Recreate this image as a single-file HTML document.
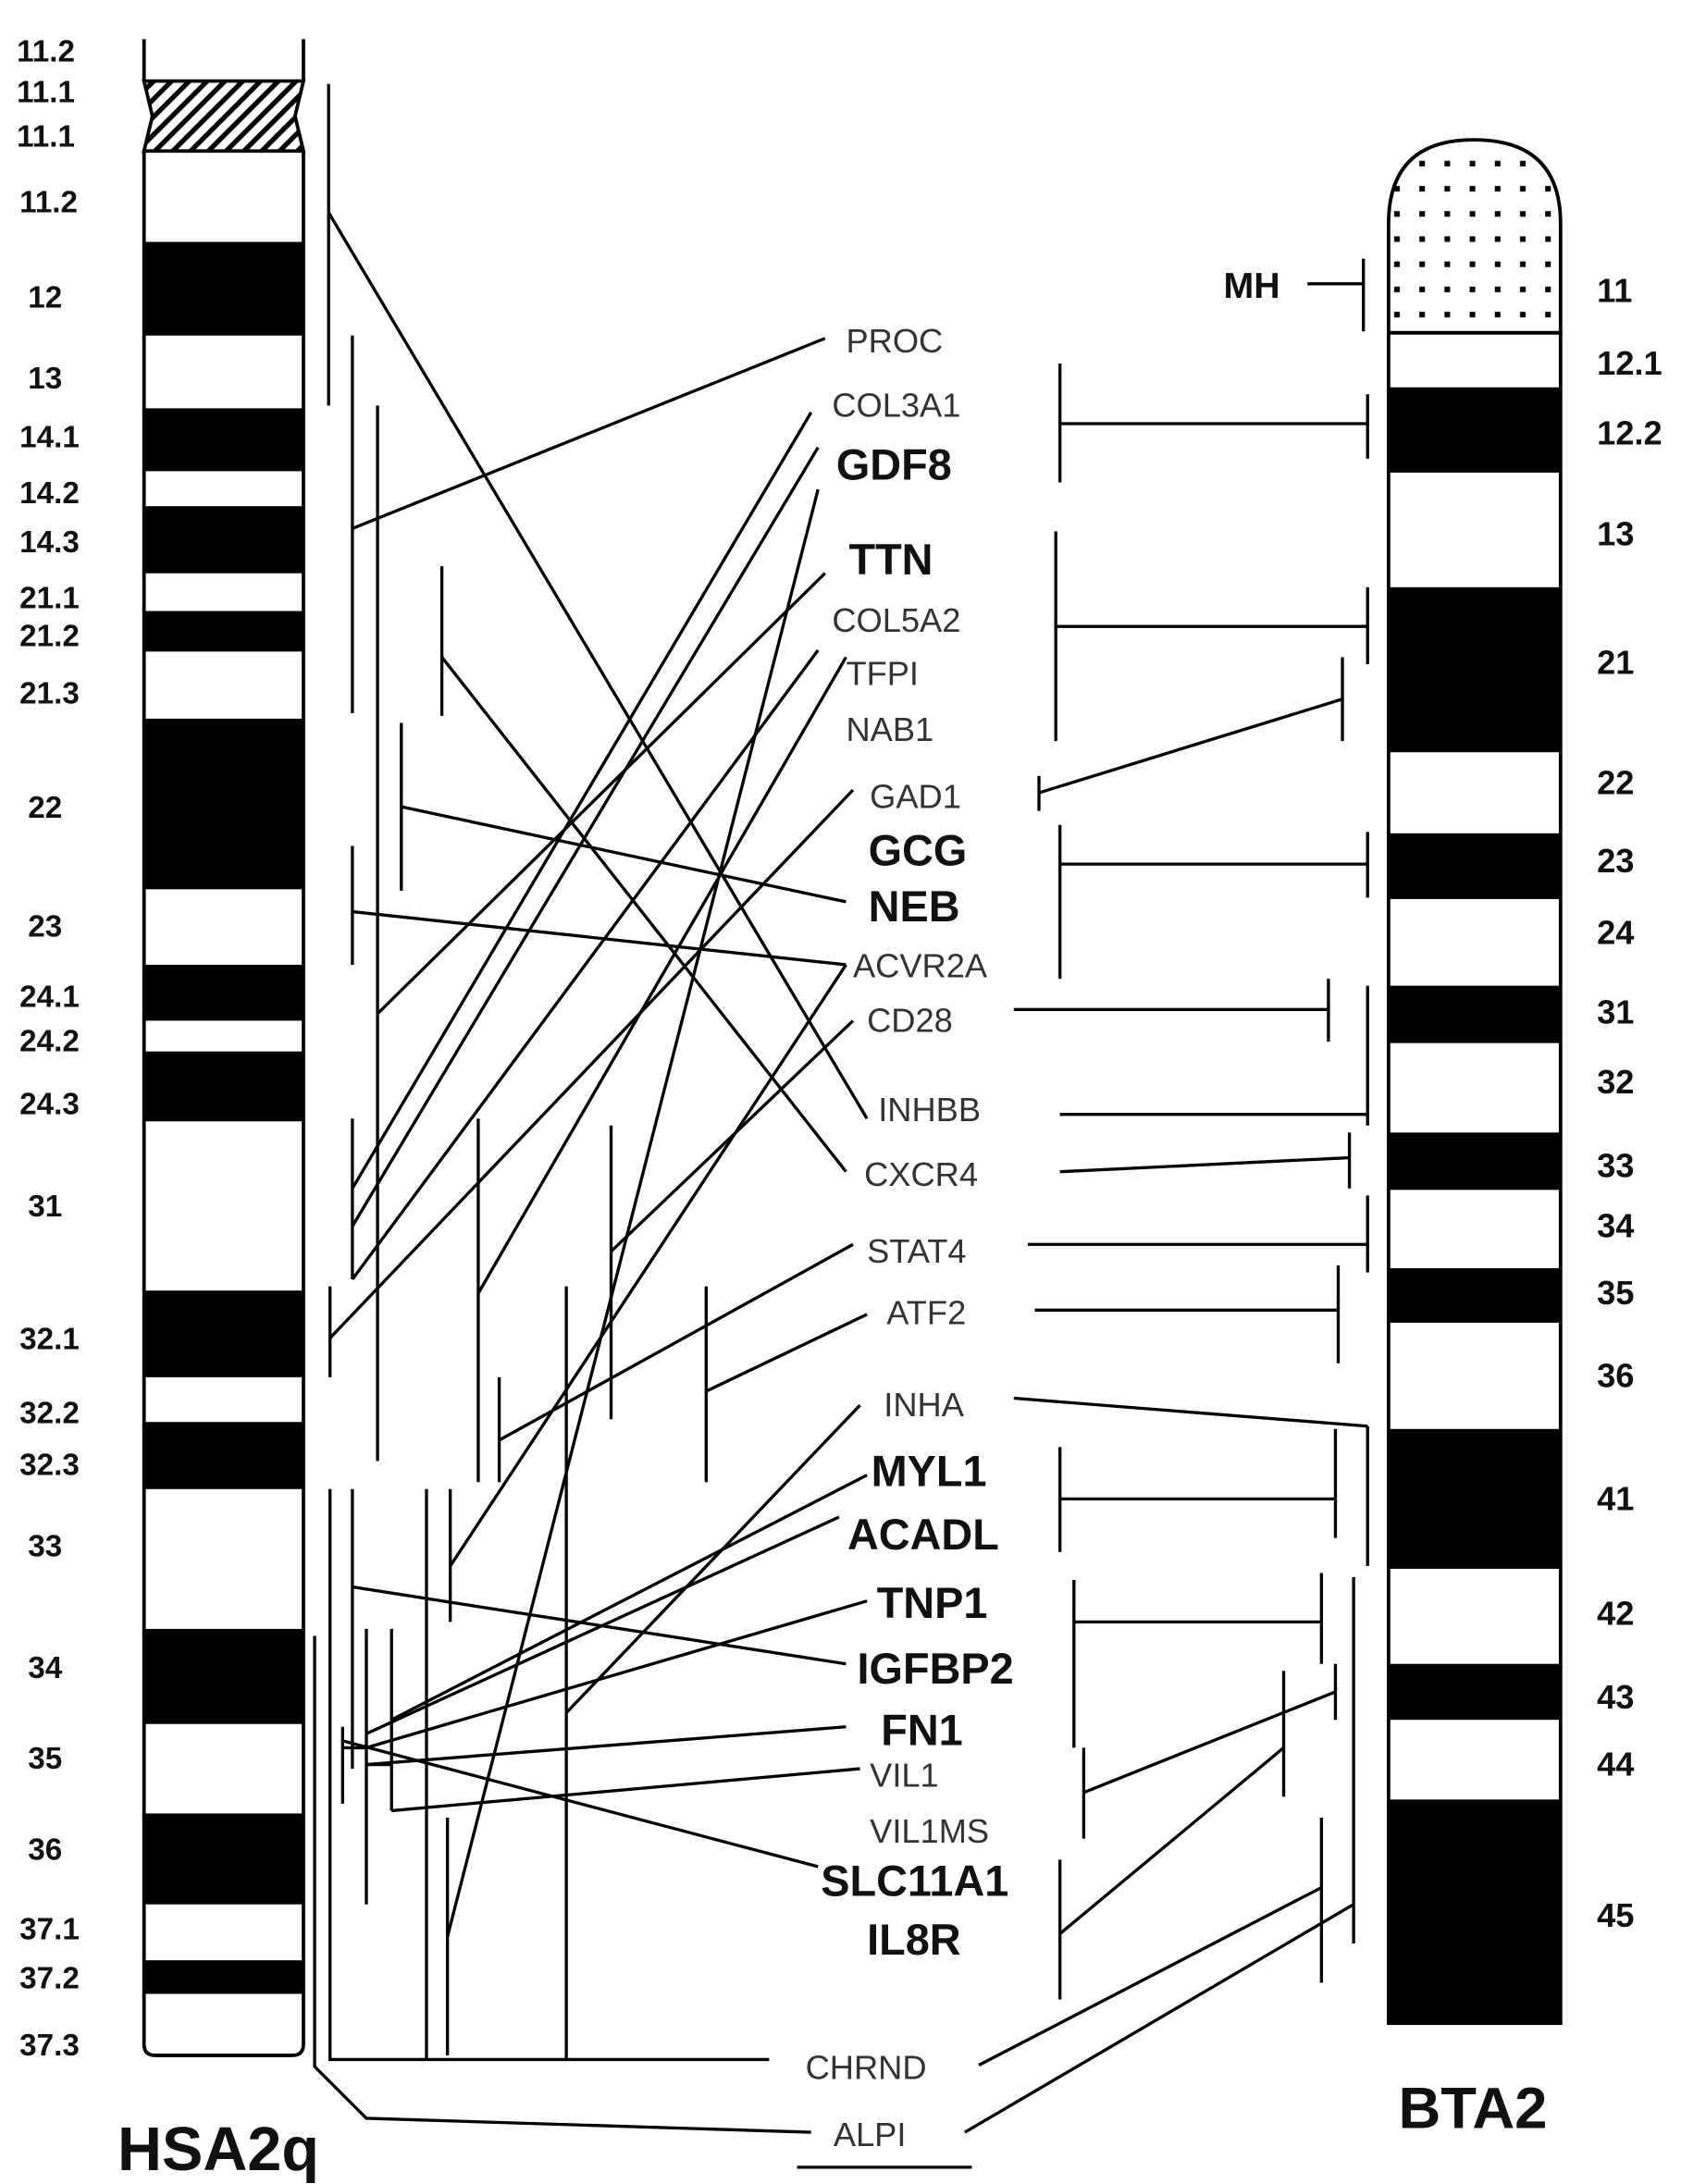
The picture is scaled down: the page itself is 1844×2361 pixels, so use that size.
<!DOCTYPE html>
<html><head><meta charset="utf-8"><style>
html,body{margin:0;padding:0;background:#fff;}
svg{display:block}
text{font-family:"Liberation Sans",Arial,sans-serif;}
.b{font-weight:bold;font-size:22px;fill:#111}
.g{font-size:24px;fill:#333}
.gb{font-size:31px;font-weight:bold;fill:#111}
</style></head><body>
<svg width="1844" height="2361" viewBox="0 0 1220 1562" preserveAspectRatio="none" xmlns="http://www.w3.org/2000/svg">
<defs>
<pattern id="h" width="9" height="9" patternUnits="userSpaceOnUse" patternTransform="rotate(45)"><rect width="9" height="9" fill="#fff"/><rect width="3.5" height="9" fill="#000"/></pattern>
<pattern id="d" width="18" height="18" patternUnits="userSpaceOnUse"><rect width="18" height="18" fill="#fff"/><rect x="7" y="7" width="4" height="4" fill="#000"/></pattern>
</defs>
<!-- Left chromosome -->
<g stroke="#000" stroke-width="2.5">
<line x1="103" y1="28" x2="103" y2="58"/><line x1="217" y1="28" x2="217" y2="58"/>
<polygon points="103,58 217,58 211,83 217,108 103,108 109,83" fill="url(#h)"/>
</g>
<g fill="#000">
<rect x="103" y="173" width="114" height="67"/>
<rect x="103" y="292" width="114" height="45"/>
<rect x="103" y="362" width="114" height="48"/>
<rect x="103" y="437" width="114" height="29"/>
<rect x="103" y="514" width="114" height="122"/>
<rect x="103" y="690" width="114" height="40"/>
<rect x="103" y="752" width="114" height="50"/>
<rect x="103" y="923" width="114" height="62"/>
<rect x="103" y="1017" width="114" height="48"/>
<rect x="103" y="1165" width="114" height="68"/>
<rect x="103" y="1297" width="114" height="65"/>
<rect x="103" y="1402" width="114" height="24"/>
</g>
<path d="M103 108 V1462 Q103 1470 111 1470 H209 Q217 1470 217 1462 V108" fill="none" stroke="#000" stroke-width="2.5"/>
<g class="b">
<text x="12" y="44">11.2</text><text x="12" y="73">11.1</text><text x="12" y="105">11.1</text>
<text x="14" y="152">11.2</text><text x="20" y="220">12</text><text x="20" y="278">13</text>
<text x="14" y="320">14.1</text><text x="14" y="360">14.2</text><text x="14" y="395">14.3</text>
<text x="14" y="435">21.1</text><text x="14" y="462">21.2</text><text x="14" y="503">21.3</text>
<text x="20" y="585">22</text><text x="20" y="670">23</text><text x="14" y="720">24.1</text>
<text x="14" y="752">24.2</text><text x="14" y="797">24.3</text><text x="20" y="870">31</text>
<text x="14" y="965">32.1</text><text x="14" y="1018">32.2</text><text x="14" y="1055">32.3</text>
<text x="20" y="1113">33</text><text x="20" y="1200">34</text><text x="20" y="1265">35</text>
<text x="20" y="1330">36</text><text x="14" y="1387">37.1</text><text x="14" y="1422">37.2</text><text x="14" y="1470">37.3</text>
</g>
<text x="84" y="1552" style="font-weight:bold;font-size:44px" fill="#111">HSA2q</text>
<!-- Right chromosome -->
<path d="M993 238 V160 Q993 100 1054 100 Q1116 100 1116 160 V238 Z" fill="url(#d)" stroke="#000" stroke-width="2.5"/>
<g fill="#000">
<rect x="993" y="277" width="123" height="61"/>
<rect x="993" y="420" width="123" height="118"/>
<rect x="993" y="596" width="123" height="47"/>
<rect x="993" y="705" width="123" height="41"/>
<rect x="993" y="810" width="123" height="41"/>
<rect x="993" y="907" width="123" height="39"/>
<rect x="993" y="1022" width="123" height="100"/>
<rect x="993" y="1190" width="123" height="40"/>
<rect x="993" y="1287" width="123" height="160"/>
</g>
<rect x="993" y="238" width="123" height="1209" fill="none" stroke="#000" stroke-width="2.5"/>
<g class="b" style="font-size:24px">
<text x="1142" y="216">11</text><text x="1142" y="268">12.1</text><text x="1142" y="318">12.2</text>
<text x="1142" y="390">13</text><text x="1142" y="482">21</text><text x="1142" y="568">22</text>
<text x="1142" y="624">23</text><text x="1142" y="675">24</text><text x="1142" y="732">31</text>
<text x="1142" y="782">32</text><text x="1142" y="842">33</text><text x="1142" y="885">34</text>
<text x="1142" y="933">35</text><text x="1142" y="992">36</text><text x="1142" y="1080">41</text>
<text x="1142" y="1162">42</text><text x="1142" y="1222">43</text><text x="1142" y="1270">44</text>
<text x="1142" y="1378">45</text>
</g>
<text x="1000" y="1522" style="font-weight:bold;font-size:42px" fill="#111">BTA2</text>
<text x="875" y="213" class="b" style="font-size:26px">MH</text>
<!-- Gene labels -->
<g class="g">
<text x="605" y="252">PROC</text><text x="595" y="298">COL3A1</text>
<text x="595" y="452">COL5A2</text><text x="605" y="490">TFPI</text><text x="605" y="530">NAB1</text>
<text x="622" y="578">GAD1</text><text x="610" y="699">ACVR2A</text><text x="620" y="738">CD28</text>
<text x="628" y="802">INHBB</text><text x="618" y="848">CXCR4</text><text x="620" y="903">STAT4</text>
<text x="634" y="947">ATF2</text><text x="632" y="1013">INHA</text><text x="622" y="1278">VIL1</text>
<text x="622" y="1318">VIL1MS</text><text x="576" y="1487">CHRND</text><text x="596" y="1535">ALPI</text>
</g>
<g class="gb">
<text x="598" y="343">GDF8</text><text x="607" y="411">TTN</text><text x="621" y="619">GCG</text>
<text x="621" y="659">NEB</text><text x="623" y="1063">MYL1</text><text x="606" y="1108">ACADL</text>
<text x="627" y="1157">TNP1</text><text x="613" y="1204">IGFBP2</text><text x="630" y="1248">FN1</text>
<text x="587" y="1356">SLC11A1</text><text x="620" y="1398">IL8R</text>
</g>
<!-- connectors -->
<g stroke="#000" stroke-width="2.2" fill="none">
<line x1="570" y1="1550" x2="695" y2="1550"/>
<!-- left bars -->
<line x1="235" y1="60" x2="235" y2="290"/><line x1="252" y1="240" x2="252" y2="510"/>
<line x1="270" y1="290" x2="270" y2="1045"/><line x1="316" y1="405" x2="316" y2="512"/>
<line x1="287" y1="517" x2="287" y2="637"/><line x1="252" y1="605" x2="252" y2="690"/>
<line x1="252" y1="800" x2="252" y2="915"/><line x1="236" y1="920" x2="236" y2="985"/>
<line x1="342" y1="800" x2="342" y2="1060"/><line x1="357" y1="985" x2="357" y2="1060"/>
<line x1="437" y1="805" x2="437" y2="1015"/><line x1="405" y1="920" x2="405" y2="1473"/>
<line x1="505" y1="920" x2="505" y2="1060"/><line x1="322" y1="1065" x2="322" y2="1160"/>
<line x1="305" y1="1065" x2="305" y2="1473"/><line x1="252" y1="1065" x2="252" y2="1265"/>
<line x1="262" y1="1165" x2="262" y2="1362"/><line x1="280" y1="1165" x2="280" y2="1295"/>
<line x1="245" y1="1235" x2="245" y2="1290"/><line x1="320" y1="1300" x2="320" y2="1470"/>
<path d="M236 1065 V1473 H550"/>
<path d="M225 1170 V1478 L262 1515 L580 1525"/>
<!-- left lines -->
<line x1="252" y1="378" x2="590" y2="242"/>
<line x1="235" y1="152" x2="620" y2="800"/>
<line x1="316" y1="470" x2="605" y2="838"/>
<line x1="287" y1="577" x2="605" y2="645"/>
<line x1="252" y1="652" x2="605" y2="690"/>
<line x1="580" y1="295" x2="252" y2="850"/>
<line x1="585" y1="320" x2="252" y2="877"/>
<line x1="590" y1="410" x2="270" y2="725"/>
<line x1="585" y1="465" x2="252" y2="915"/>
<line x1="605" y1="470" x2="342" y2="925"/>
<line x1="610" y1="565" x2="236" y2="957"/>
<line x1="610" y1="730" x2="437" y2="895"/>
<line x1="610" y1="890" x2="357" y2="1030"/>
<line x1="620" y1="940" x2="505" y2="995"/>
<line x1="615" y1="1005" x2="405" y2="1225"/>
<line x1="620" y1="1055" x2="280" y2="1230"/>
<line x1="600" y1="1085" x2="262" y2="1240"/>
<line x1="620" y1="1145" x2="262" y2="1250"/>
<line x1="605" y1="1190" x2="252" y2="1135"/>
<line x1="605" y1="1235" x2="262" y2="1262"/>
<line x1="615" y1="1265" x2="280" y2="1295"/>
<line x1="585" y1="1335" x2="245" y2="1245"/>
<line x1="320" y1="1385" x2="585" y2="350"/>
<line x1="322" y1="1120" x2="605" y2="690"/>
<line x1="262" y1="1262" x2="280" y2="1262"/>
<line x1="245" y1="1250" x2="262" y2="1250"/>
<!-- right side -->
<line x1="935" y1="203" x2="975" y2="203"/><line x1="975" y1="185" x2="975" y2="237"/>
<line x1="758" y1="260" x2="758" y2="345"/><line x1="758" y1="303" x2="978" y2="303"/><line x1="978" y1="282" x2="978" y2="328"/>
<line x1="755" y1="380" x2="755" y2="530"/><line x1="755" y1="448" x2="978" y2="448"/><line x1="978" y1="420" x2="978" y2="475"/>
<line x1="743" y1="555" x2="743" y2="580"/><line x1="743" y1="567" x2="960" y2="500"/><line x1="960" y1="470" x2="960" y2="530"/>
<line x1="758" y1="590" x2="758" y2="700"/><line x1="758" y1="618" x2="978" y2="618"/><line x1="978" y1="595" x2="978" y2="642"/>
<line x1="725" y1="722" x2="950" y2="722"/><line x1="950" y1="700" x2="950" y2="745"/>
<line x1="758" y1="797" x2="978" y2="797"/><line x1="978" y1="705" x2="978" y2="805"/>
<line x1="758" y1="838" x2="965" y2="828"/><line x1="965" y1="810" x2="965" y2="850"/>
<line x1="735" y1="890" x2="978" y2="890"/><line x1="978" y1="855" x2="978" y2="910"/>
<line x1="740" y1="937" x2="957" y2="937"/><line x1="957" y1="905" x2="957" y2="975"/>
<line x1="725" y1="1000" x2="978" y2="1020"/><line x1="978" y1="1020" x2="978" y2="1120"/>
<line x1="758" y1="1035" x2="758" y2="1110"/><line x1="758" y1="1072" x2="955" y2="1072"/><line x1="955" y1="1022" x2="955" y2="1100"/>
<line x1="768" y1="1130" x2="768" y2="1250"/><line x1="768" y1="1160" x2="945" y2="1160"/><line x1="945" y1="1125" x2="945" y2="1190"/>
<line x1="775" y1="1250" x2="775" y2="1315"/><line x1="775" y1="1282" x2="955" y2="1210"/><line x1="955" y1="1190" x2="955" y2="1230"/>
<line x1="758" y1="1330" x2="758" y2="1430"/><line x1="758" y1="1383" x2="918" y2="1250"/><line x1="918" y1="1195" x2="918" y2="1285"/>
<line x1="968" y1="1128" x2="968" y2="1390"/>
<line x1="700" y1="1477" x2="945" y2="1350"/><line x1="945" y1="1300" x2="945" y2="1418"/>
<line x1="690" y1="1525" x2="968" y2="1362"/>
</g>
</svg>
</body></html>
